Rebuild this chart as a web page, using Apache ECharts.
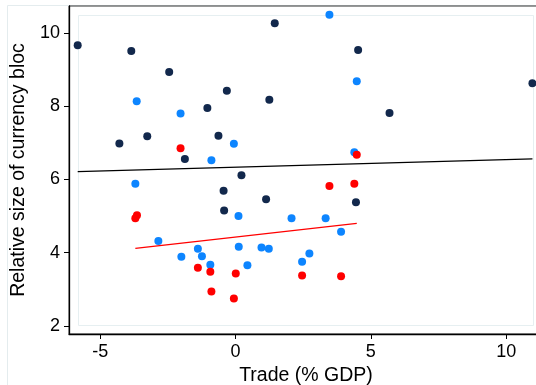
<!DOCTYPE html>
<html><head><meta charset="utf-8">
<script src="https://cdn.jsdelivr.net/npm/echarts@6/dist/echarts.min.js"></script>
<style>html,body{margin:0;padding:0;background:#fff}#c{width:536px;height:385px}</style>
</head><body><div id="c"></div>
<script>
var navyX = [-5.83,-3.85,-2.45,-0.32,-1.04,1.25,-4.29,-3.26,-0.63,-1.87,0.22,-0.44,1.13,-0.42,1.45,4.53,10.97,5.69,4.45];
var navyY = [9.66,9.50,8.93,8.42,7.95,8.17,6.98,7.18,7.19,6.56,6.11,5.69,5.46,5.15,10.26,9.53,8.62,7.81,5.38];
var blueX = [-3.65,-2.03,-0.06,-0.89,-3.70,3.47,4.48,4.39,-2.85,-2.00,-1.39,-1.24,-0.93,0.11,0.12,0.44,0.96,1.23,2.07,3.33,3.90,2.73,2.46];
var blueY = [8.13,7.80,6.97,6.52,5.88,10.49,8.68,6.74,4.32,3.89,4.11,3.90,3.67,5.00,4.16,3.66,4.14,4.11,4.94,4.94,4.57,3.98,3.75];
var redX = [-2.03,4.48,3.47,4.39,-3.70,-3.64,-1.39,-0.93,-0.89,0.01,-0.06,2.46,3.90];
var redY = [6.85,6.67,5.82,5.88,4.94,5.02,3.59,3.48,2.94,3.43,2.75,3.38,3.36];
var fitAllX = [-5.83, 10.97];
var fitAllY = [6.21, 6.56];
var fitRedX = [-3.70, 4.48];
var fitRedY = [4.12, 4.80];
var xTicks = [-5, 0, 5, 10];
var yTicks = [2, 4, 6, 8, 10];

function zip(a, b) { return a.map(function (v, i) { return [v, b[i]]; }); }

var FONT = 'Liberation Sans, Arial, sans-serif';
var chart = echarts.init(document.getElementById('c'), null, {renderer: 'canvas'});
chart.setOption({
  animation: false,
  backgroundColor: '#ffffff',
  graphic: [
    {type: 'rect', shape: {x: 7.5, y: 5.5, width: 600, height: 400}, style: {fill: null, stroke: '#e4ecee', lineWidth: 1}, z: -10},
    {type: 'rect', shape: {x: 78.5, y: 15.5, width: 455, height: 310}, style: {fill: null, stroke: '#e6eff1', lineWidth: 1}, z: -10}
  ],
  grid: {left: 69, top: 6, width: 474, height: 328, containLabel: false, outerBoundsMode: 'none', show: true, borderColor: '#333', borderWidth: 1, backgroundColor: 'transparent'},
  xAxis: {
    type: 'value', min: -6.151, max: 11.36,
    name: 'Trade (% GDP)', nameLocation: 'middle', nameGap: 28,
    nameTextStyle: {fontFamily: FONT, fontSize: 19.5, color: '#000'},
    axisLine: {show: true, onZero: false, lineStyle: {color: '#000', width: 1.3}},
    axisTick: {show: true, length: 5, customValues: xTicks, lineStyle: {color: '#000'}},
    axisLabel: {customValues: xTicks, margin: 9, fontFamily: FONT, fontSize: 18, color: '#000'},
    splitLine: {show: false}
  },
  yAxis: {
    type: 'value', min: 1.782, max: 10.731,
    name: 'Relative size of currency bloc', nameLocation: 'middle', nameGap: 40,
    nameTextStyle: {fontFamily: FONT, fontSize: 19.5, color: '#000'},
    axisLine: {show: true, onZero: false, lineStyle: {color: '#000', width: 1.3}},
    axisTick: {show: true, length: 5, customValues: yTicks, lineStyle: {color: '#000'}},
    axisLabel: {customValues: yTicks, margin: 9, fontFamily: FONT, fontSize: 18, color: '#000'},
    splitLine: {show: false}
  },
  series: [
    {type: 'scatter', data: zip(navyX, navyY), symbolSize: 8, itemStyle: {color: '#12284c', opacity: 1}},
    {type: 'scatter', data: zip(blueX, blueY), symbolSize: 8, itemStyle: {color: '#0d85ff', opacity: 1}},
    {type: 'scatter', data: zip(redX, redY), symbolSize: 8, itemStyle: {color: '#ff0000', opacity: 1}},
    {type: 'line', data: zip(fitAllX, fitAllY), symbol: 'none', lineStyle: {color: '#000', width: 1.3}},
    {type: 'line', data: zip(fitRedX, fitRedY), symbol: 'none', lineStyle: {color: '#ff0000', width: 1.2}}
  ]
});
</script></body></html>
